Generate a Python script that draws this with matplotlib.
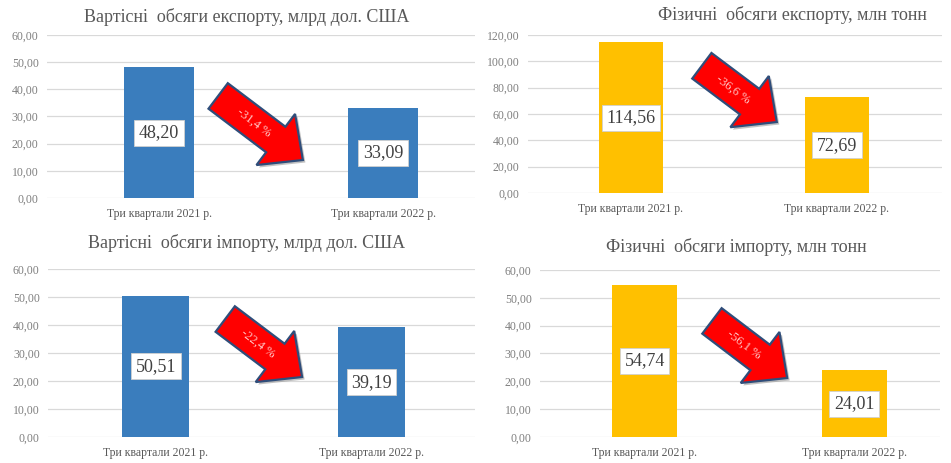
import matplotlib
matplotlib.use("Agg")
from matplotlib import pyplot as plt
from matplotlib.patches import Polygon
from matplotlib.ticker import FuncFormatter, MultipleLocator
import numpy as np

plt.rcParams['font.family'] = ['Liberation Serif', 'DejaVu Serif']

categories = ["Три квартали 2021 р.", "Три квартали 2022 р."]

titles = ["Вартісні  обсяги експорту, млрд дол. США",
          "Фізичні  обсяги експорту, млн тонн",
          "Вартісні  обсяги імпорту, млрд дол. США",
          "Фізичні  обсяги імпорту, млн тонн"]
values = [[48.20, 33.09],
          [114.56, 72.69],
          [50.51, 39.19],
          [54.74, 24.01]]
changes = ["-31,4 %", "-36,6 %", "-22,4 %", "-56,1 %"]

blue = "#3a7dbd"
yellow = "#ffc000"
colors = [blue, yellow, blue, yellow]
ymax = [60, 120, 60, 60]
ystep = [10, 20, 10, 10]

# axes rectangles (left, bottom, width, height)
rects = [[0.0494, 0.5724, 0.450, 0.352],
         [0.5552, 0.5832, 0.4353, 0.3413],
         [0.0505, 0.0562, 0.449, 0.3629],
         [0.5678, 0.0562, 0.4206, 0.3607]]
xlims = [(-0.5, 1.41), (-0.5, 1.51), (-0.5, 1.48), (-0.5, 1.41)]
title_pos = [(0.467, 1.11), (0.64, 1.127), (0.466, 1.155), (0.49, 1.14)]
# arrow tail centre and tip in axes fraction
arrows = [((0.400, 0.626), (0.598, 0.233)),
          ((0.420, 0.805), (0.601, 0.449)),
          ((0.415, 0.702), (0.595, 0.357)),
          ((0.430, 0.695), (0.618, 0.353))]

fig = plt.figure(figsize=(9.51, 4.63), dpi=100)

gray = "#595959"


def draw_arrow(ax, tail, tip, label):
    p0 = ax.transAxes.transform(tail)
    p1 = ax.transAxes.transform(tip)
    d = p1 - p0
    u = d / np.hypot(*d)
    n = np.array([-u[1], u[0]])
    sw, hw, hl = 16.0, 32.0, 34.0
    base = p1 - u * hl
    pts = [p0 + n * sw, base + n * sw, base + n * hw, p1,
           base - n * hw, base - n * sw, p0 - n * sw]
    shadow = Polygon([p + np.array([2.5, -2.5]) for p in pts], closed=True,
                     facecolor="#9a9a9a", edgecolor="none", alpha=0.6,
                     transform=None, zorder=4)
    fig.add_artist(shadow)
    arr = Polygon(pts, closed=True, facecolor="#ff0000", edgecolor="#2f4d7a",
                  linewidth=1.6, transform=None, zorder=5)
    fig.add_artist(arr)
    mid = p0 + d * 0.42
    ang = np.degrees(np.arctan2(d[1], d[0]))
    fx, fy = fig.transFigure.inverted().transform(mid)
    fig.text(fx, fy, label, rotation=ang, ha="center", va="center",
             color="#ffc8c8", fontsize=9, zorder=6, rotation_mode="anchor")


for i in range(4):
    ax = fig.add_axes(rects[i])
    x = np.arange(len(categories))
    ax.bar(x, values[i], width=0.31, color=colors[i], zorder=2)
    ax.set_xlim(*xlims[i])
    ax.set_ylim(0, ymax[i])
    ax.yaxis.set_major_locator(MultipleLocator(ystep[i]))
    ax.yaxis.set_major_formatter(FuncFormatter(lambda v, p: f"{v:.2f}".replace(".", ",")))
    ax.grid(axis="y", color="#d9d9d9", linewidth=0.9, zorder=0)
    for s in ax.spines.values():
        s.set_visible(False)
    ax.tick_params(axis="both", length=0)
    ax.tick_params(axis="y", labelsize=8.5, pad=6, labelcolor="#7f7f7f")
    ax.tick_params(axis="x", labelsize=8.5, pad=7, labelcolor=gray)
    ax.set_xticks(x)
    ax.set_xticklabels(categories)
    for xi, v in zip(x, values[i]):
        ax.text(xi, v / 2, f"{v:.2f}".replace(".", ","), ha="center", va="center",
                fontsize=13, color="#404040", zorder=3,
                bbox=dict(boxstyle="square,pad=0.25", facecolor="white",
                          edgecolor="#d0d0d0", linewidth=0.6))
    ax.text(title_pos[i][0], title_pos[i][1], titles[i], transform=ax.transAxes,
            ha="center", va="center", fontsize=13, color=gray)
    draw_arrow(ax, arrows[i][0], arrows[i][1], changes[i])

fig.savefig("out.png", dpi=100)
